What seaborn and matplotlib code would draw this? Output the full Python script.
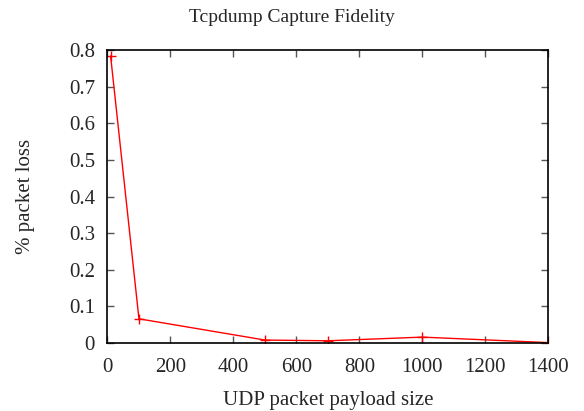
import numpy as np
import pandas as pd
import matplotlib
matplotlib.use("Agg")
import matplotlib.pyplot as plt
import seaborn as sns

payload_size = [10, 100, 500, 700, 1000, 1400]
packet_loss = [0.784, 0.066, 0.008, 0.006, 0.016, 0.001]

x_ticks = [0, 200, 400, 600, 800, 1000, 1200, 1400]
y_ticks = [0, 0.1, 0.2, 0.3, 0.4, 0.5, 0.6, 0.7, 0.8]

sns.set_style("ticks")
plt.rcParams['font.family'] = ['Liberation Serif', 'DejaVu Serif']

df = pd.DataFrame({"size": payload_size, "loss": packet_loss})

fig = plt.figure(figsize=(5.84, 4.11), dpi=100)
ax = fig.add_axes([0.184, 0.1655, 0.755, 0.7125])

sns.lineplot(data=df, x="size", y="loss", ax=ax, color="#ff0000", linewidth=1,
             marker="+", markersize=7, markeredgewidth=1, markeredgecolor="#ff0000")

ax.set_xlim(0, 1400)
ax.set_ylim(0, 0.8)
ax.set_xticks(x_ticks)
ax.set_xticklabels([str(t) for t in x_ticks])
ax.set_yticks(y_ticks)
ax.set_yticklabels(["0" if t == 0 else f"{t:g}" for t in y_ticks])
ax.tick_params(direction="in", length=5, width=1, top=True, right=True,
               labelsize=15, color="#555555")
ax.tick_params(axis="x", pad=11)
ax.tick_params(axis="y", pad=9)
for s in ax.spines.values():
    s.set_linewidth(1.2)
    s.set_color("black")

ax.set_xlabel("UDP packet payload size", fontsize=15, labelpad=10)
ax.set_ylabel("% packet loss", fontsize=15, labelpad=24)
fig.text(0.5, 1 - 17 / 411, "Tcpdump Capture Fidelity", fontsize=14,
         ha="center", va="center")

fig.savefig("out.png", dpi=100)
